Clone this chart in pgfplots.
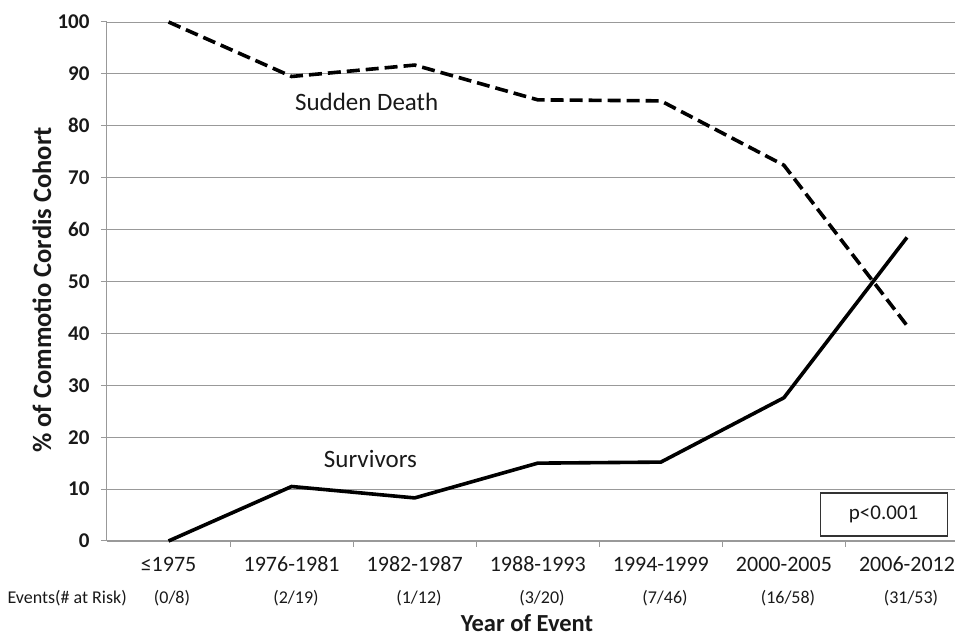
\documentclass[border=0pt]{standalone}
\usepackage{pgfplots}
\pgfplotsset{compat=1.18}
\usepackage{fontspec}
\setmainfont{Carlito}
\begin{document}
\begin{tikzpicture}
\begin{axis}[
  scale only axis, width=848pt, height=519pt,
  xmin=-0.5, xmax=6.39, ymin=0, ymax=100,
  clip=false,
  axis x line*=bottom, axis y line*=left,
  axis line style={draw=black!40, line width=1pt, -},
  ytick={0,10,...,100},
  ymajorgrids, grid style={black!40, line width=0.9pt},
  xtick={0,...,6},
  xticklabels={≤1975,1976-1981,1982-1987,1988-1993,1994-1999,2000-2005,2006-2012},
  minor xtick={0.5,1.5,...,5.5},
  major x tick style={draw=none},
  minor x tick style={draw=black!40, line width=1pt},
  y tick style={draw=black!40, line width=1pt},
  tick align=outside,
  major tick length=6pt, minor tick length=6pt,
  /pgf/number format/assume math mode=true,
  xticklabel style={font=\fontsize{22}{24}\selectfont, text=black!90, anchor=north, text height=15pt, text depth=4pt, yshift=-6pt},
  yticklabel style={font=\bfseries\fontsize{21}{22}\selectfont, text=black!90, xshift=-8pt},
]
\coordinate (O) at (rel axis cs:0,0);
\addplot[black, line width=3.6pt, dash pattern=on 13pt off 6pt] coordinates {
  (0,100) (1,89.5) (2,91.7) (3,85.0) (4,84.8) (5,72.4) (6,41.5)};
\addplot[black, line width=3.6pt] coordinates {
  (0,0) (1,10.5) (2,8.3) (3,15.0) (4,15.2) (5,27.6) (6,58.5)};
\node[font=\fontsize{25}{27}\selectfont, text=black!90] at (axis cs:1.61,84.6) {Sudden Death};
\node[font=\fontsize{25}{27}\selectfont, text=black!90] at (axis cs:1.64,15.8) {Survivors};
\node[draw=black!80, line width=1.2pt, fill=white, minimum width=127pt, minimum height=43pt, font=\fontsize{21}{22}\selectfont, text=black!90] at (axis cs:5.81,5.1) {p<0.001};
\end{axis}
\begin{scope}[every node/.style={font=\fontsize{18}{20}\selectfont, text=black!90}]
\node at ([xshift=65pt,yshift=-57pt]O) {(0/8)};
\node at ([xshift=189pt,yshift=-57pt]O) {(2/19)};
\node at ([xshift=312pt,yshift=-57pt]O) {(1/12)};
\node at ([xshift=435pt,yshift=-57pt]O) {(3/20)};
\node at ([xshift=558pt,yshift=-57pt]O) {(7/46)};
\node at ([xshift=681pt,yshift=-57pt]O) {(16/58)};
\node at ([xshift=804pt,yshift=-57pt]O) {(31/53)};
\node[anchor=west] at ([xshift=-103pt,yshift=-57pt]O) {Events(\# at Risk)};
\end{scope}
\node[font=\bfseries\fontsize{24.5}{26}\selectfont, text=black!90] at ([xshift=420pt,yshift=-82pt]O) {Year of Event};
\node[rotate=90, font=\bfseries\fontsize{26.5}{28}\selectfont, text=black!90] at ([xshift=-65pt,yshift=251pt]O) {\% of Commotio Cordis Cohort};
\pgfresetboundingbox
\path ([shift={(-107pt,-95pt)}]O) rectangle ([shift={(852pt,541pt)}]O);
\end{tikzpicture}
\end{document}
